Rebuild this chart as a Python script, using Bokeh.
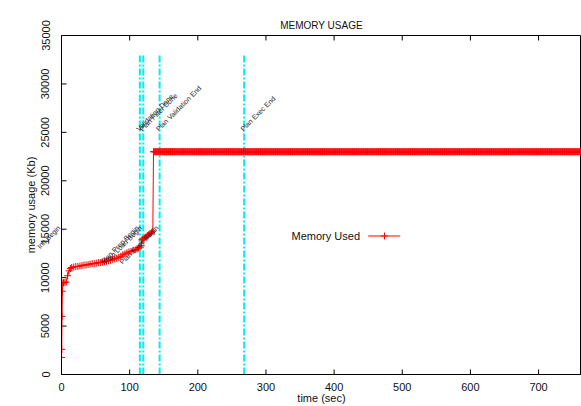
import math
from bokeh.plotting import figure
from bokeh.models import SingleIntervalTicker, ColumnDataSource, Label
from bokeh.embed import file_html
from bokeh.resources import INLINE

FONT = "Liberation Sans"

# memory samples during start-up (time in s, memory in Kb)
startup_time = [0, 0.3, 0.8, 1.3, 2, 3, 5, 7, 9, 11, 13, 15, 18, 21, 24, 27, 30,
                33, 36, 39, 42, 45, 48, 51, 54, 57, 60, 63, 66, 69, 72, 75, 78,
                81, 84, 87, 90, 93, 96, 99, 102, 105, 108, 111, 113, 115, 117,
                118, 119, 120, 122, 124, 126, 128, 130, 132, 134]
startup_mem = [1750, 2600, 6000, 8600, 9450, 9480, 9500, 9550, 10200, 10700,
               10950, 11050, 11100, 11150, 11150, 11200, 11250, 11300, 11300,
               11350, 11400, 11450, 11450, 11500, 11550, 11550, 11600, 11650,
               11700, 11750, 11800, 11900, 11950, 12000, 12100, 12200, 12350,
               12450, 12550, 12650, 12700, 12800, 12870, 12950, 13050, 13150,
               13300, 13900, 13950, 14000, 14100, 14200, 14350, 14450, 14550,
               14650, 14800]

# steady state after plan execution starts: one sample per second at 23000 Kb
steady_start = 135
steady_end = 763
steady_level = 23000

# event markers
event_time = [115, 120, 144, 268]
begin_time = [0, 115, 120, 144]
begin_text = ["Init Begin", "Plan Prep Begin", "Plan Load Begin", "Plan Exec Begin"]
end_time = [115, 120, 144, 268]
end_text = ["Validation Done", "Plan Filter Done", "Plan Validation End", "Plan Exec End"]
begin_level = 15000
end_level = 25000
event_top = 33000

# axis ticks
x_ticks = [0, 100, 200, 300, 400, 500, 600, 700]
y_ticks = [0, 5000, 10000, 15000, 20000, 25000, 30000, 35000]

X_MAX, Y_MAX = 763, 35000
FRAME_W, FRAME_H = 520, 340
TICK_PX = 5
Y_TITLE_PX = 25   # distance of the y title's anchor left of the frame

steady_time = list(range(steady_start, steady_end + 1))
time_s = startup_time + steady_time
mem_kb = startup_mem + [steady_level] * len(steady_time)

p = figure(width=581, height=406, x_range=(0, X_MAX), y_range=(0, Y_MAX),
           output_backend="svg", toolbar_location=None,
           min_border_left=61, min_border_right=0, min_border_top=35,
           min_border_bottom=31)
p.grid.visible = False
p.outline_line_color = "#000000"
p.outline_line_width = 1
p.background_fill_color = "white"
p.border_fill_color = "white"

p.title.text = "MEMORY USAGE"
p.title.align = "center"
p.title.text_font = FONT
p.title.text_font_size = "10px"
p.title.text_font_style = "normal"
p.title.text_color = "#111111"
p.title.offset = -6

for ax in (p.xaxis[0], p.yaxis[0]):
    ax.major_tick_in = 0
    ax.major_tick_out = 0
    ax.minor_tick_line_color = None
    ax.axis_line_color = "#000000"
    ax.major_label_text_font = FONT
    ax.major_label_text_font_size = "11px"
    ax.major_label_text_color = "#111111"
    ax.axis_label_text_font = FONT
    ax.axis_label_text_font_size = "11px"
    ax.axis_label_text_font_style = "normal"
    ax.axis_label_text_color = "#111111"

p.xaxis[0].ticker = SingleIntervalTicker(interval=100)
p.yaxis[0].ticker = SingleIntervalTicker(interval=5000)
p.xaxis[0].axis_label = "time (sec)"
p.xaxis[0].major_label_standoff = 4
p.xaxis[0].axis_label_standoff = -2
p.yaxis[0].major_label_orientation = "vertical"
p.yaxis[0].major_label_standoff = 8

# inward tick marks on the bottom, top and left edges of the frame
dy = TICK_PX * Y_MAX / FRAME_H
dx = TICK_PX * X_MAX / FRAME_W
p.segment(x0=x_ticks, y0=[0] * len(x_ticks), x1=x_ticks, y1=[dy] * len(x_ticks),
          line_color="#000000", line_width=1)
p.segment(x0=x_ticks, y0=[Y_MAX] * len(x_ticks), x1=x_ticks,
          y1=[Y_MAX - dy] * len(x_ticks), line_color="#000000", line_width=1)
p.segment(x0=[0] * len(y_ticks), y0=y_ticks, x1=[dx] * len(y_ticks), y1=y_ticks,
          line_color="#000000", line_width=1)

# event lines
ev = ColumnDataSource(dict(x=event_time, y0=[0] * len(event_time),
                           y1=[event_top] * len(event_time)))
p.segment(x0="x", y0="y0", x1="x", y1="y1", source=ev,
          line_color="#00f0f0", line_width=2, line_dash="7 2 2 2")

# memory curve
src = ColumnDataSource(dict(t=time_s, m=mem_kb))
p.line("t", "m", source=src, line_color="#ff0000", line_width=1)
p.scatter("t", "m", source=src, marker="cross", size=7,
          line_color="#ff0000", line_width=1)

# y title, kept in the left panel next to the init label
p.add_layout(Label(x=-Y_TITLE_PX * X_MAX / FRAME_W, y=Y_MAX / 2,
                   text="memory usage (Kb)", angle=math.pi / 2,
                   text_align="center", text_baseline="bottom",
                   text_font=FONT, text_font_size="11px",
                   text_color="#111111"), "left")

# event labels; one sitting on the left edge runs out over the axis panel
for x, t in zip(begin_time, begin_text):
    lbl = Label(x=x, y=begin_level, text=t, angle=math.pi / 4,
                text_align="right", text_baseline="bottom",
                text_font=FONT, text_font_size="7px", text_color="#222222")
    p.add_layout(lbl, "left" if x <= 0 else "center")
for x, t in zip(end_time, end_text):
    p.add_layout(Label(x=x, y=end_level, text=t, angle=math.pi / 4,
                       text_align="left", text_baseline="bottom",
                       text_font=FONT, text_font_size="7px",
                       text_color="#222222"))

# key: text followed by a line sample
p.add_layout(Label(x=438, y=14300, text="Memory Used", text_align="right",
                   text_baseline="middle", text_font=FONT,
                   text_font_size="11px", text_color="#111111"))
p.line([450, 497], [14300, 14300], line_color="#ff0000", line_width=1)
p.scatter([474], [14300], marker="cross", size=7, line_color="#ff0000",
          line_width=1)

open("out.html", "w").write(file_html(p, INLINE))
